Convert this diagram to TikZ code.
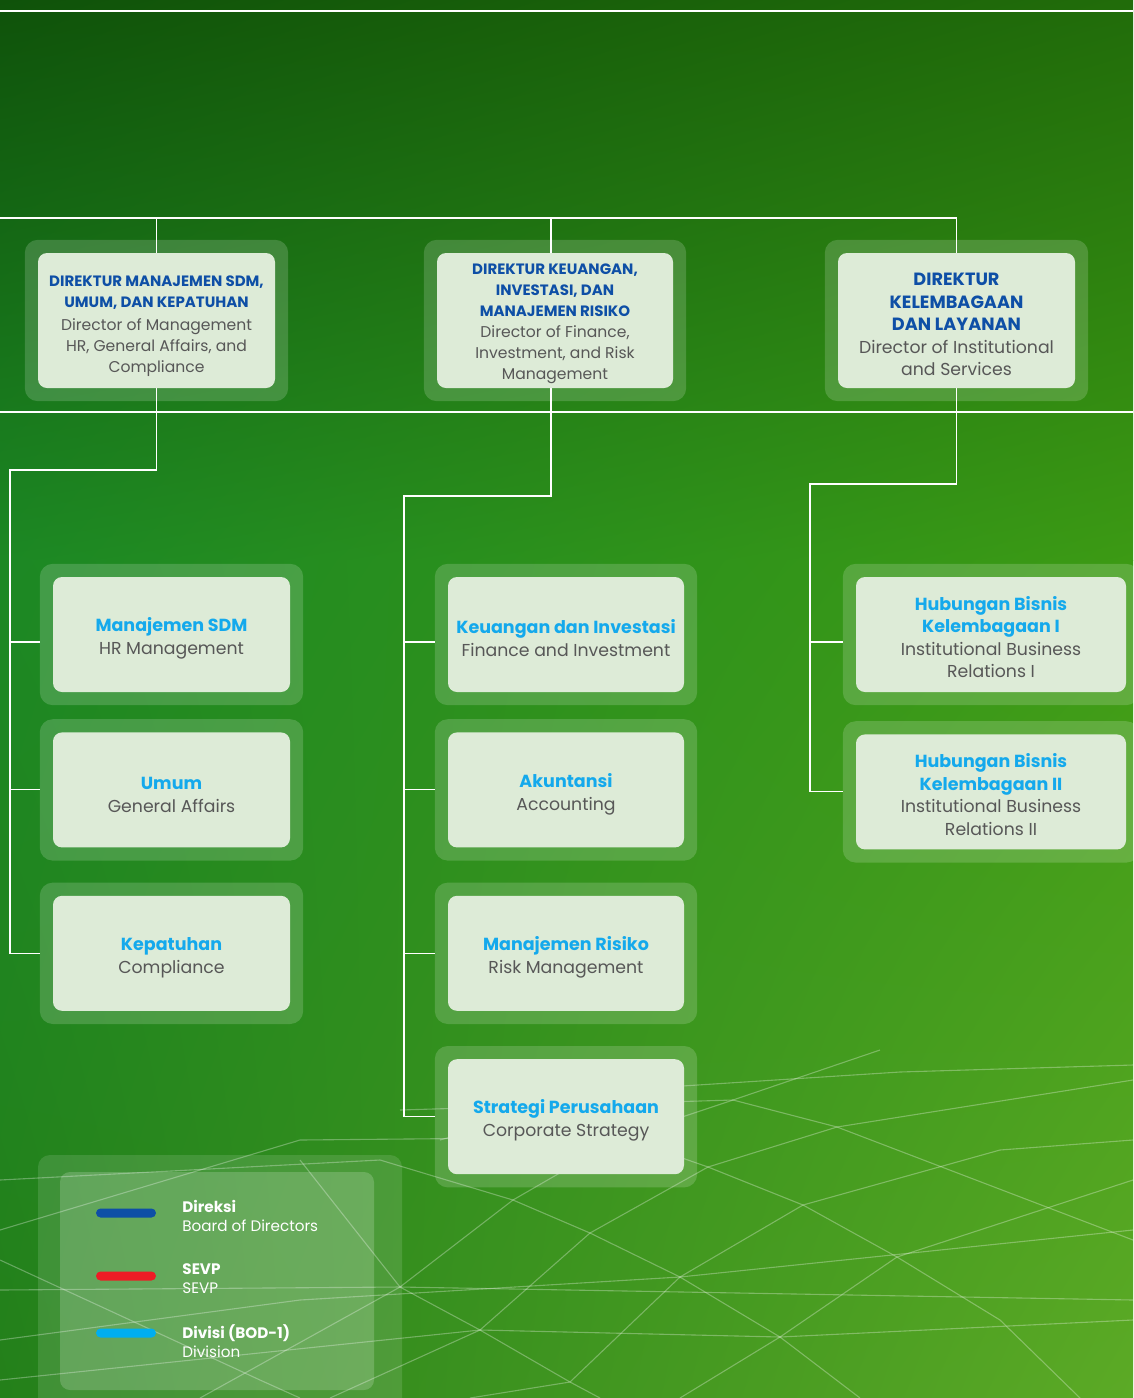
\documentclass[tikz,border=0pt]{standalone}
\usepackage{fontspec}
\setmainfont{Poppins}
\usepackage{xcolor}
\usetikzlibrary{positioning,fit,calc,backgrounds,shadings}
\definecolor{dirblue}{HTML}{0E4FA6}
\definecolor{divcyan}{HTML}{14A9EC}
\definecolor{inkgrey}{HTML}{575757}
\definecolor{cardfill}{HTML}{DDEBD7}
\definecolor{keyred}{HTML}{EE1C25}
\definecolor{keycyan}{HTML}{00AEEF}
\definecolor{leafa}{HTML}{0F520A}
\definecolor{leafb}{HTML}{216C0A}
\definecolor{leafc}{HTML}{1C8824}
\definecolor{leafd}{HTML}{3C9A14}
\definecolor{leafe}{HTML}{24801A}
\definecolor{leaff}{HTML}{5CAA26}
\newcommand{\dirttl}[1]{{\fontsize{15}{20}\selectfont\bfseries\color{dirblue}#1}}
\newcommand{\dirbig}[1]{{\fontsize{17.7}{22}\selectfont\bfseries\color{dirblue}#1}}
\newcommand{\divttl}[1]{{\fontsize{17.5}{23}\selectfont\bfseries\color{divcyan}#1}}
\newcommand{\lift}[1]{\rule{0pt}{#1}}
\tikzset{
  director/.style = {rectangle, rounded corners=9pt, fill=cardfill, minimum width=237pt,
                     minimum height=135pt, inner sep=2pt, align=center, text=inkgrey,
                     font=\fontsize{15.6}{21}\selectfont},
  division/.style = {director, minimum height=115pt, font=\fontsize{17.3}{23}\selectfont},
  glow/.style     = {rectangle, rounded corners=13pt, fill=white, fill opacity=0.17, inner sep=13pt},
  link/.style     = {draw=white, line width=1.1pt},
  web/.style      = {draw=white, draw opacity=0.3, line width=1.1pt},
  swatch/.style   = {rectangle, rounded corners=4.5pt, fill=#1, minimum width=60pt,
                     minimum height=9pt, inner sep=0pt},
  keytext/.style  = {inner sep=0pt, align=left, text=white, font=\fontsize{15.2}{19}\selectfont},
}

\begin{document}
\begin{tikzpicture}[x=1pt, y=-1pt, node distance=40pt]
  \useasboundingbox (0,0) rectangle (1133,1398);

  % directors
  \node[director] (d1) at (156.5,320.5)
    {\lift{22.5pt}\dirttl{DIREKTUR MANAJEMEN SDM,}\\\dirttl{UMUM, DAN KEPATUHAN}\\[2pt]Director of Management\\HR, General Affairs, and\\Compliance};
  \node[director, minimum width=236pt] (d2) at (555,320.5)
    {\lift{16.5pt}\dirttl{DIREKTUR KEUANGAN,}\\\dirttl{INVESTASI, DAN}\\\dirttl{MANAJEMEN RISIKO}\\Director of Finance,\\Investment, and Risk\\Management};
  \node[director, font=\fontsize{17.3}{22.5}\selectfont] (d3) at (956.5,320.5)
    {\lift{20.5pt}\dirbig{DIREKTUR}\\\dirbig{KELEMBAGAAN}\\\dirbig{DAN LAYANAN}\\Director of Institutional\\and Services};

  % divisions under d1
  \node[division] (a1) at (171.5,634.5) {\lift{22pt}\divttl{Manajemen SDM}\\HR Management};
  \node[division, below=40pt of a1] (a2) {\lift{22pt}\divttl{Umum}\\General Affairs};
  \node[division, below=48pt of a2] (a3) {\lift{22pt}\divttl{Kepatuhan}\\Compliance};

  % divisions under d2
  \node[division, minimum width=236pt] (b1) at (566,634.5) {\lift{22pt}\divttl{Keuangan dan Investasi}\\Finance and Investment};
  \node[division, minimum width=236pt, below=40pt of b1] (b2) {\lift{22pt}\divttl{Akuntansi}\\Accounting};
  \node[division, minimum width=236pt, below=48pt of b2] (b3) {\lift{22pt}\divttl{Manajemen Risiko}\\Risk Management};
  \node[division, minimum width=236pt, below=48pt of b3] (b4) {\lift{22pt}\divttl{Strategi Perusahaan}\\Corporate Strategy};

  % divisions under d3
  \node[division, minimum width=270pt, font=\fontsize{17.3}{22.5}\selectfont] (c1) at (991,634.5)
    {\lift{19pt}\divttl{Hubungan Bisnis}\\\divttl{Kelembagaan I}\\Institutional Business\\Relations I};
  \node[division, minimum width=270pt, font=\fontsize{17.3}{22.5}\selectfont, below=42pt of c1] (c2)
    {\lift{19pt}\divttl{Hubungan Bisnis}\\\divttl{Kelembagaan II}\\Institutional Business\\Relations II};

  % legend
  \node[swatch=dirblue] (k1) at (126,1213) {};
  \node[swatch=keyred] (k2) at (126,1276) {};
  \node[swatch=keycyan] (k3) at (126,1333) {};
  \node[keytext, right=26pt of k1, yshift=-3pt] (t1) {\textbf{Direksi}\\Board of Directors};
  \node[keytext, right=26pt of k2, yshift=-3pt] (t2) {\textbf{SEVP}\\SEVP};
  \node[keytext, right=26pt of k3, yshift=-8pt] (t3) {\textbf{Divisi (BOD-1)}\\Division};

  \begin{scope}[on background layer]
    % backdrop
    \shade[upper left=leafa, upper right=leafb, lower left=leafc, lower right=leafd]
      (0,0) rectangle (1133,560);
    \shade[upper left=leafc, upper right=leafd, lower left=leafe, lower right=leaff]
      (0,560) rectangle (1133,1398);
    % web
    \draw[web] (300,1160) -- (400,1287) -- (480,1330) -- (570,1382) -- (600,1398);
    \draw[web] (0,1180) -- (380,1160) -- (513,1200) -- (590,1233) -- (680,1277) -- (780,1337) -- (860,1398);
    \draw[web] (0,1230) -- (300,1140) -- (622,1137) -- (708,1167) -- (803,1205) -- (897,1257) -- (1000,1320) -- (1080,1398);
    \draw[web] (400,1110) -- (733,1100) -- (837,1127) -- (1133,1240);
    \draw[web] (440,1140) -- (620,1090) -- (900,1072) -- (1133,1065);
    \draw[web] (200,1398) -- (400,1287) -- (513,1200) -- (622,1137) -- (733,1100) -- (880,1050);
    \draw[web] (330,1398) -- (480,1330) -- (590,1233) -- (708,1167) -- (837,1127) -- (1133,1080);
    \draw[web] (470,1398) -- (570,1382) -- (680,1277) -- (803,1205) -- (1000,1150) -- (1133,1140);
    \draw[web] (680,1398) -- (780,1337) -- (897,1257) -- (1133,1180);
    \draw[web] (0,1290) -- (400,1287) -- (1133,1300);
    \draw[web] (0,1340) -- (300,1300) -- (680,1277) -- (1133,1230);
    \draw[web] (0,1380) -- (480,1330) -- (780,1337) -- (1133,1320);
    \draw[web] (0,1260) -- (260,1380) -- (300,1398);
    % legend panel
    \fill[white, fill opacity=0.12, rounded corners=12pt] (38,1155) rectangle (402,1412);
    \fill[white, fill opacity=0.18, rounded corners=10pt] (60,1172) rectangle (374,1390);
    % glows
    \foreach \n in {d1,d2,d3,a1,a2,a3,b1,b2,b3,b4,c1,c2}
      \node[glow, fit=(\n)] (g\n) {};
    % rules and tree
    \coordinate (ruleL) at (0,11);
    \coordinate (ruleR) at (1133,11);
    \draw[link] (ruleL) -- (ruleR);
    \coordinate (busT) at (0,218);
    \coordinate (busB) at (0,412);
    \coordinate (busBR) at (1133,412);
    \draw[link] (busT) -| (d3.north);
    \draw[link] (d1.north) -- (d1.north |- busT);
    \draw[link] ([xshift=-4pt]d2.north) -- ([xshift=-4pt]d2.north |- busT);
    \draw[link] (busB) -- (busBR);
    % d1 branch
    \coordinate (spA) at (10,470);
    \draw[link] (d1.south) |- (spA) |- (ga3.west);
    \draw[link] (spA |- ga2.west) -- (ga2.west);
    \draw[link] ([yshift=-7.5pt]spA |- ga1.west) -- ([yshift=-7.5pt]ga1.west);
    % d2 branch
    \coordinate (spB) at (404,496);
    \draw[link] ([xshift=-4pt]d2.south) |- (spB) |- (gb4.west);
    \draw[link] (spB |- gb3.west) -- (gb3.west);
    \draw[link] (spB |- gb2.west) -- (gb2.west);
    \draw[link] ([yshift=-7.5pt]spB |- gb1.west) -- ([yshift=-7.5pt]gb1.west);
    % d3 branch
    \coordinate (spC) at (810,484);
    \draw[link] (d3.south) |- (spC) |- (gc2.west);
    \draw[link] ([yshift=-7.5pt]spC |- gc1.west) -- ([yshift=-7.5pt]gc1.west);
  \end{scope}
\end{tikzpicture}
\end{document}
